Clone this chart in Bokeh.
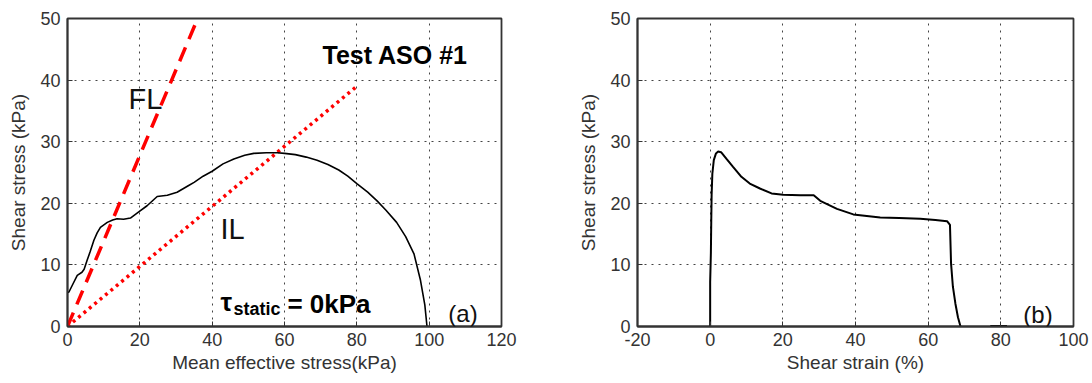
from bokeh.plotting import figure
from bokeh.layouts import row
from bokeh.models import Range1d, FixedTicker, Label, PrintfTickFormatter
from bokeh.embed import file_html
from bokeh.resources import INLINE

# ---- Panel (a): stress path ----
mean_p = [0, 0.4, 1.5, 2.7, 4.0, 4.6, 5.4, 6.3, 7.3, 8.2, 9.1, 11.0, 12.5, 13.7, 15.5, 17.4, 19.7, 22.0,
          24.8, 27.6, 30.3, 33.5, 35.0, 37.5, 40.0, 43.0, 46.0, 49.0, 51.5, 55.0, 58.0, 60.0, 63.0, 66.0,
          69.0, 72.0, 75.0, 77.5, 80.0, 83.0, 85.6, 88.0, 91.0, 93.5, 95.8, 97.6, 98.8, 99.4]
shear_q = [5.5, 5.6, 6.9, 8.3, 8.8, 9.3, 10.7, 12.2, 14.0, 15.2, 16.1, 16.9, 17.3, 17.5, 17.4, 17.6, 18.6, 19.6,
           21.1, 21.3, 21.8, 22.9, 23.4, 24.4, 25.2, 26.4, 27.2, 27.8, 28.1, 28.2, 28.2, 28.1, 27.9, 27.5,
           27.0, 26.3, 25.4, 24.4, 23.2, 21.8, 20.4, 18.9, 16.9, 14.6, 11.8, 7.5, 3.5, 0.0]
fl_x = [0, 36]
fl_y = [0, 50]
il_x = [0, 80]
il_y = [0, 39]

# ---- Panel (b): stress-strain ----
strain = [0, 0, 0.2, 0.3, 0.4, 0.6, 1.0, 1.6, 2.2, 3.0, 4.5, 6.3, 8.6, 10.9, 13.7, 16.9, 20.1, 24.8,
          28.5, 30.3, 34.9, 39.4, 46.8, 52.0, 57.8, 62.0, 65.2, 66.0, 66.3, 66.8, 67.5, 68.2, 68.9]
stress = [0, 7.2, 12.0, 17.0, 21.3, 24.8, 27.0, 28.1, 28.4, 28.3, 27.2, 25.9, 24.3, 23.2, 22.4, 21.6, 21.4, 21.3,
          21.3, 20.4, 19.1, 18.2, 17.7, 17.6, 17.5, 17.3, 17.1, 16.5, 10.2, 6.5, 3.7, 1.5, 0.0]
strain_tail = [77.1, 81.7]
stress_tail = [0.1, 0.1]

x_ticks_a = [0, 20, 40, 60, 80, 100, 120]
x_ticks_b = [-20, 0, 20, 40, 60, 80, 100]
y_ticks = [0, 10, 20, 30, 40, 50]

FONT = "Liberation Sans"
AX = "#333333"


def make_fig(xr, xticks, xlabel, left, right):
    p = figure(width=546, height=383, output_backend="svg", toolbar_location=None,
               x_range=Range1d(*xr), y_range=Range1d(0, 50),
               min_border_left=left, min_border_right=right, min_border_top=18, min_border_bottom=57)
    p.xaxis.ticker = FixedTicker(ticks=xticks)
    p.yaxis.ticker = FixedTicker(ticks=y_ticks)
    p.xaxis.formatter = PrintfTickFormatter(format="%d")
    p.yaxis.formatter = PrintfTickFormatter(format="%d")
    p.xaxis.axis_label = xlabel
    p.yaxis.axis_label = "Shear stress (kPa)"
    for ax in (p.xaxis[0], p.yaxis[0]):
        ax.axis_line_color = AX
        ax.axis_line_width = 1.8
        ax.major_tick_in = 5
        ax.major_tick_out = 0
        ax.major_tick_line_color = AX
        ax.minor_tick_line_color = None
        ax.major_label_text_font = FONT
        ax.major_label_text_font_size = "18px"
        ax.major_label_text_color = AX
        ax.axis_label_text_font = FONT
        ax.axis_label_text_font_size = "19px"
        ax.axis_label_text_font_style = "normal"
        ax.axis_label_text_color = AX
    p.xaxis.major_label_standoff = 6
    p.xaxis.axis_label_standoff = 3
    p.yaxis.major_label_standoff = 7
    p.yaxis.axis_label_standoff = 8
    for g in (p.xgrid[0], p.ygrid[0]):
        g.grid_line_color = "#444444"
        g.grid_line_dash = "2 5"
        g.grid_line_width = 1
    p.outline_line_color = AX
    p.outline_line_width = 1.8
    p.outline_line_alpha = 1
    p.background_fill_color = "white"
    p.border_fill_color = "white"
    return p


def lab(p, x, y, text, size, bold=False, color="black"):
    p.add_layout(Label(x=x, y=y, text=text, text_font=FONT, text_font_size=size,
                       text_font_style="bold" if bold else "normal", text_color=color,
                       text_align="left", text_baseline="alphabetic"))


# Panel (a)
pa = make_fig((0, 120), x_ticks_a, "Mean effective stress(kPa)", 67, 45)
pa.line(fl_x, fl_y, line_color="#ff0000", line_width=3.5, line_dash="15 9")
pa.line(il_x, il_y, line_color="#ff0000", line_width=3.5, line_dash="3 4")
pa.line(mean_p, shear_q, line_color="black", line_width=1.6)
lab(pa, 70.5, 44.0, "Test ASO #1", "25px", bold=True)
lab(pa, 16.9, 37.0, "FL", "29px", color="#111111")
lab(pa, 42.3, 15.75, "IL", "29px", color="#111111")
lab(pa, 42.3, 3.9, "τ", "26px", bold=True)
lab(pa, 45.9, 2.9, "static", "18px", bold=True)
lab(pa, 60.8, 3.65, "= 0kPa", "26px", bold=True)
lab(pa, 105.3, 2.1, "(a)", "24px", color="#111111")

# Panel (b)
pb = make_fig((-20, 100), x_ticks_b, "Shear strain (%)", 91, 19)
pb.line(strain, stress, line_color="black", line_width=2)
pb.line(strain_tail, stress_tail, line_color="black", line_width=2)
lab(pb, 86.2, 1.95, "(b)", "24px", color="#111111")

layout = row(pa, pb)
open("out.html", "w").write(file_html(layout, INLINE))
